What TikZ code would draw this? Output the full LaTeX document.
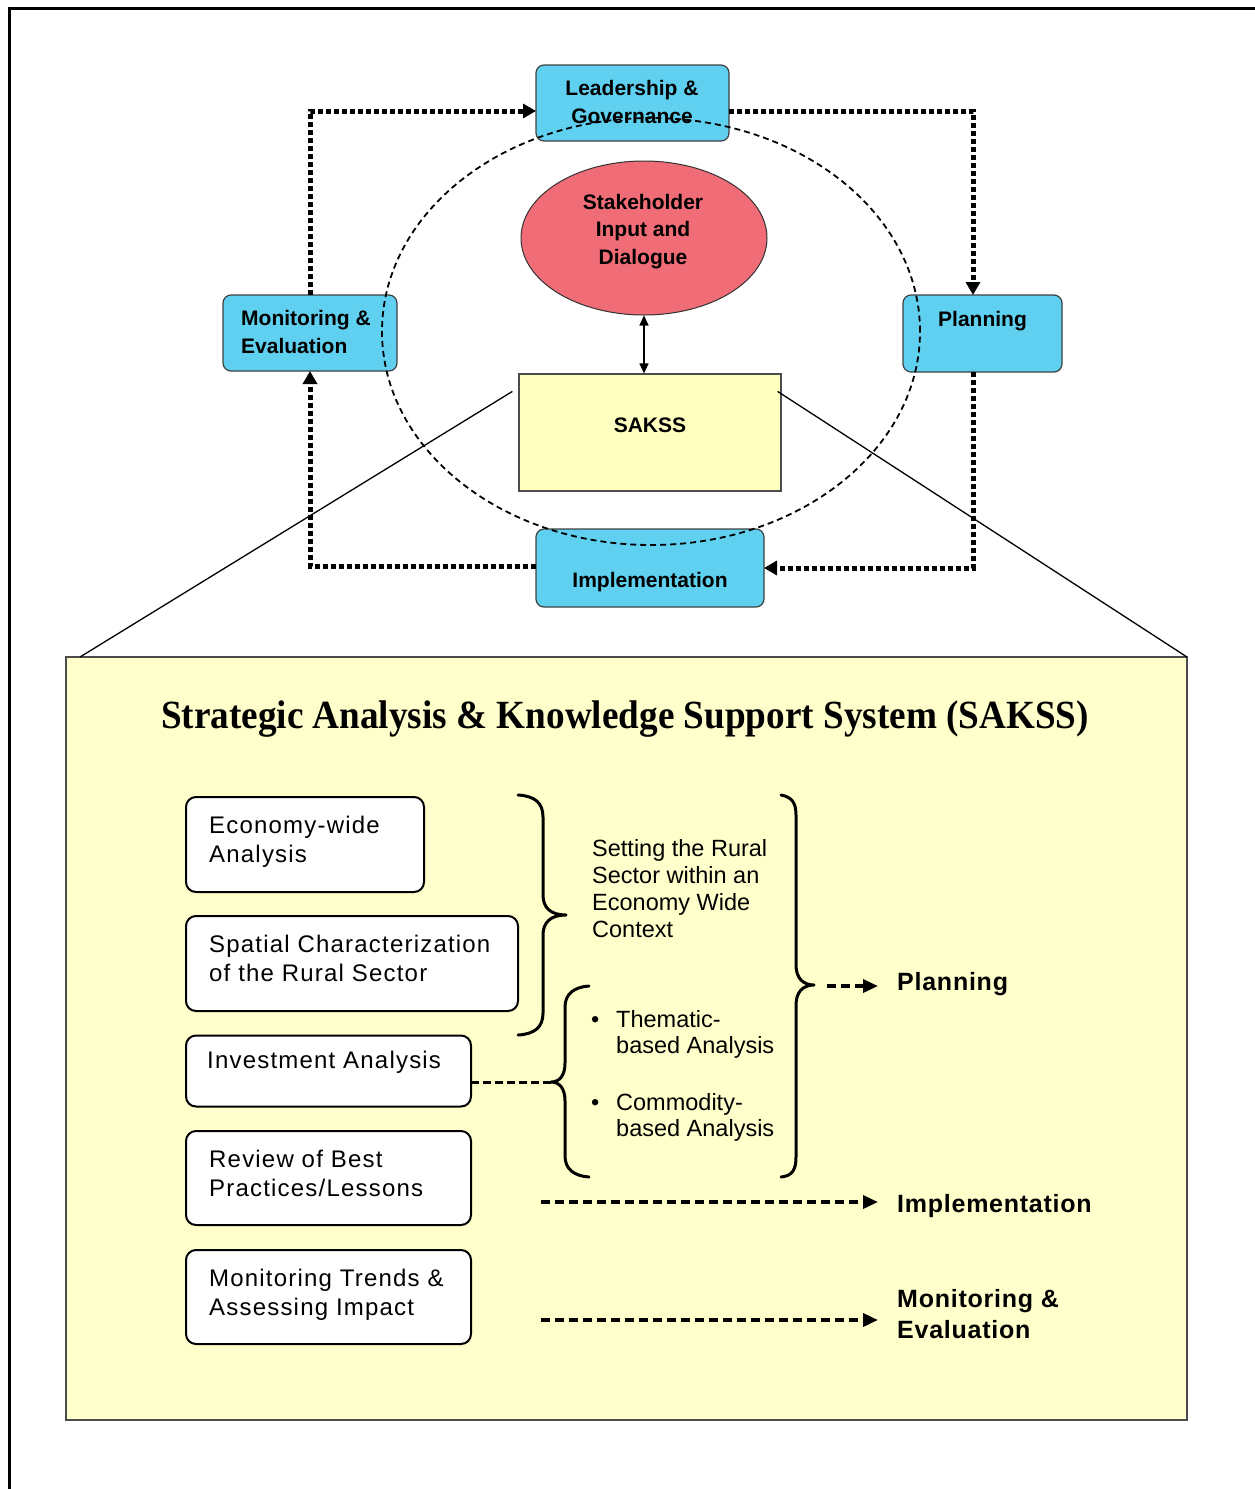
\documentclass[tikz,border=0pt]{standalone}
\usepackage{fontspec}
\setmainfont{Liberation Sans}
\newfontfamily\sansb{Liberation Sans}
\newfontfamily\sansls{Liberation Sans}[LetterSpace=5]
\newfontfamily\sansbls{Liberation Sans}[LetterSpace=3]
\newfontfamily\titlefont{Liberation Serif}[FakeStretch=0.93]
\usetikzlibrary{arrows.meta,calc,shapes.geometric}
\definecolor{cyanbox}{RGB}{95,208,240}
\definecolor{pinkfill}{RGB}{240,108,118}
\definecolor{saksfill}{RGB}{255,255,192}
\definecolor{bigfill}{RGB}{255,255,204}
\tikzset{
  cbox/.style={draw=black!75, line width=1.2pt, fill=cyanbox, rounded corners=8pt, inner sep=0pt, outer sep=0pt},
  toptext/.style={font=\sansb\bfseries\fontsize{21}{27.5}\selectfont, inner sep=0pt, align=center},
  wbox/.style={draw=black, line width=2pt, fill=white, rounded corners=10pt, inner sep=0pt, outer sep=0pt},
  ltext/.style={font=\sansls\fontsize{24}{29.5}\selectfont, inner sep=0pt, align=left, anchor=base west},
  rtext/.style={font=\sansb\fontsize{23.5}{26.7}\selectfont, inner sep=0pt, align=left, anchor=base west},
  blabel/.style={font=\sansbls\bfseries\fontsize{25}{31}\selectfont, inner sep=0pt, align=left, anchor=base west},
  cycarrow/.style={line width=5pt, dash pattern=on 5pt off 3pt, -{Triangle[length=13pt,width=14pt]}},
  dasharrow/.style={line width=3.5pt, dash pattern=on 9pt off 5pt, -{Triangle[length=15pt,width=13pt]}},
  bracepath/.style={line width=3pt, line cap=round, line join=round},
}
\begin{document}
\begin{tikzpicture}[x=1pt,y=-1pt]
\useasboundingbox (0,0) rectangle (1255,1489);
% outer frame
\draw[line width=3pt] (9,1495) -- (9,8) -- (1262,8);

% top cycle boxes
\node[cbox, minimum width=193, minimum height=76] (lg) at (632.5,103) {};
\node[cbox, minimum width=174, minimum height=76] (me) at (310,333) {};
\node[cbox, minimum width=159, minimum height=77] (pl) at (982.5,333.5) {};
\node[cbox, minimum width=228, minimum height=78] (im) at (650,568) {};
\node[ellipse, draw=black!80, line width=1pt, fill=pinkfill, minimum width=246, minimum height=154, inner sep=0pt] (sh) at (644,238) {};
\node[draw=black!70, line width=1.2pt, fill=saksfill, minimum width=262, minimum height=117, inner sep=0pt] (sk) at (650,432.5) {};

% texts (base anchor = baseline of the last line)
\node[toptext, anchor=base] (lgt) at (632,123) {Leadership \&\\Governance};
\node[toptext, anchor=base] (sht) at (643,264) {Stakeholder\\Input and\\Dialogue};
\node[toptext, anchor=base west, align=left] (met) at (241,353) {Monitoring \&\\Evaluation};
\node[toptext, anchor=base west] (plt) at (938,326) {Planning};
\node[toptext, anchor=base] (skt) at (650,432) {SAKSS};
\node[toptext, anchor=base] (imt) at (650,587) {Implementation};

% dashed ellipse
\node[ellipse, draw=black, line width=1.8pt, dash pattern=on 6pt off 4pt, minimum width=538, minimum height=427, inner sep=0pt] (cyc) at (651,331.5) {};

% cycle arrows
\draw[cycarrow] (me.north) |- ($(lg.west)+(0,8)$);
\draw[cycarrow] ($(lg.east)+(0,8)$) -| ($(pl.north)+(-9.5,0)$);
\draw[cycarrow] ($(pl.south)+(-9.5,0)$) |- (im.east);
\draw[cycarrow] ($(im.west)+(0,-2)$) -| (me.south);

% stakeholder <-> SAKSS
\draw[line width=1.5pt, {Triangle[length=10pt,width=9pt]}-{Triangle[length=10pt,width=9pt]}] (sh.south) -- (sh.south |- sk.north);

% big SAKSS box
\node[draw=black!70, line width=2pt, fill=bigfill, minimum width=1121, minimum height=763, inner sep=0pt, outer sep=0pt] (big) at (626.5,1038.5) {};

% zoom lines
\draw[line width=1.3pt] ($(sk.north west)+(-6,18)$) -- ($(big.north west)+(14,0)$);
\draw[line width=1.3pt] ($(sk.north east)+(-4,18)$) -- (big.north east);

% title
\node[font=\titlefont\bfseries\fontsize{40}{48}\selectfont, anchor=base, inner sep=0pt] (title) at (625,728) {Strategic Analysis \& Knowledge Support System (SAKSS)};

% left boxes
\node[wbox, minimum width=238, minimum height=95] (b1) at (305,844.5) {};
\node[wbox, minimum width=332, minimum height=95] (b2) at (352,963.5) {};
\node[wbox, minimum width=285, minimum height=71] (b3) at (328.5,1071) {};
\node[wbox, minimum width=285, minimum height=94] (b4) at (328.5,1178) {};
\node[wbox, minimum width=285, minimum height=94] (b5) at (328.5,1297) {};
\node[ltext] (t1) at (209,862.5) {Economy-wide\\Analysis};
\node[ltext] (t2) at (209,981.5) {Spatial Characterization\\of the Rural Sector};
\node[ltext] (t3) at (207,1068) {Investment Analysis};
\node[ltext] (t4) at (209,1196.5) {Review of Best\\Practices/Lessons};
\node[ltext] (t5) at (209,1315.5) {Monitoring Trends \&\\Assessing Impact};

% braces
\coordinate (br1) at (566,915);
\coordinate (br2) at (551,1082);
\coordinate (br3) at (814,985);
\draw[bracepath] (518,795) .. controls (535,796) and (543,803) .. (543,817) -- (543,895) .. controls (543,908) and (551,915) .. (br1) .. controls (551,915) and (543,922) .. (543,935) -- (543,1013) .. controls (543,1027) and (535,1034) .. (518,1035);
\draw[bracepath] (589,986) .. controls (574,987) and (565,994) .. (565,1007) -- (565,1063) .. controls (565,1075) and (560,1082) .. (br2) .. controls (560,1082) and (565,1089) .. (565,1101) -- (565,1156) .. controls (565,1169) and (574,1176) .. (589,1177);
\draw[bracepath] (781,795) .. controls (792,797) and (796,803) .. (796,815) -- (796,965) .. controls (796,978) and (803,985) .. (br3) .. controls (803,985) and (796,992) .. (796,1005) -- (796,1157) .. controls (796,1170) and (792,1176) .. (781,1177);

% right texts
\node[rtext] (ctx) at (592,937) {Setting the Rural\\Sector within an\\Economy Wide\\Context};
\node[rtext] (bl1) at (591,1027) {•};
\node[rtext] (th) at (616,1053.7) {Thematic-\\based Analysis};
\node[rtext] (bl2) at (591,1110) {•};
\node[rtext] (co) at (616,1136.7) {Commodity-\\based Analysis};

% investment dashed link
\draw[line width=3pt, dash pattern=on 8pt off 4pt] (b3.east |- br2) -- (br2);

% output labels
\node[blabel] (lp) at (897,990) {Planning};
\node[blabel] (li) at (897,1212) {Implementation};
\node[blabel] (lm) at (897,1338) {Monitoring \&\\Evaluation};
\coordinate (pe) at (878,986);
\coordinate (is) at (541,1202);
\coordinate (ie) at (878,1202);
\coordinate (ms) at (541,1320);
\coordinate (mend) at (878,1320);
\draw[dasharrow] ($(br3)+(13,1)$) -- (pe);
\draw[dasharrow] (is) -- (ie);
\draw[dasharrow] (ms) -- (mend);
\end{tikzpicture}
\end{document}
